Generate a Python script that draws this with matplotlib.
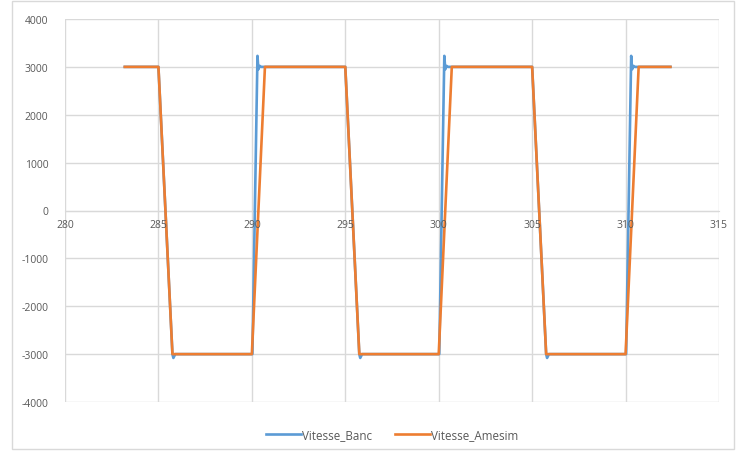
import matplotlib.pyplot as plt
from matplotlib.patches import Rectangle

# Vitesse_Amesim (simulation)
t_amesim = [283.2, 285.0, 285.75, 290.0, 290.7, 295.0, 295.75, 300.0, 300.7,
            305.0, 305.75, 310.0, 310.7, 312.4]
v_amesim = [3000, 3000, -3000, -3000, 3000, 3000, -3000, -3000, 3000,
            3000, -3000, -3000, 3000, 3000]

# Vitesse_Banc (bench measurement)
t_banc = [283.2, 285.0, 285.75, 285.8, 285.9, 290.03, 290.3, 290.35, 290.42, 290.5,
          295.0, 295.75, 295.8, 295.9, 300.03, 300.3, 300.35, 300.42, 300.5,
          305.0, 305.75, 305.8, 305.9, 310.03, 310.3, 310.35, 310.42, 310.5, 312.4]
v_banc = [3000, 3000, -3000, -3080, -3000, -3000, 3230, 2950, 3020, 3000,
          3000, -3000, -3080, -3000, -3000, 3230, 2950, 3020, 3000,
          3000, -3000, -3080, -3000, -3000, 3230, 2950, 3020, 3000, 3000]

x_ticks = [280, 285, 290, 295, 300, 305, 310, 315]
y_ticks = [-4000, -3000, -2000, -1000, 0, 1000, 2000, 3000, 4000]

plt.rcParams['font.family'] = ['Open Sans', 'DejaVu Sans']
plt.rcParams['axes.unicode_minus'] = False
grid_c = '#D9D9D9'
text_c = '#595959'

fig = plt.figure(figsize=(7.36, 4.52), dpi=100)
fig.patches.append(Rectangle((12 / 736, 2 / 452), 722 / 736, 448 / 452,
                             transform=fig.transFigure, fill=False,
                             edgecolor=grid_c, linewidth=1))
ax = fig.add_axes([65 / 736, 49 / 452, 654 / 736, 383 / 452])

ax.plot(t_banc, v_banc, color='#5B9BD5', lw=1.9, label='Vitesse_Banc', zorder=3)
ax.plot(t_amesim, v_amesim, color='#ED7D31', lw=1.9, label='Vitesse_Amesim', zorder=4)

ax.set_xlim(280, 315)
ax.set_ylim(-4000, 4000)
ax.set_xticks(x_ticks)
ax.set_yticks(y_ticks)
ax.grid(True, color=grid_c, lw=1)
ax.set_axisbelow(True)
for s in ['top', 'right', 'left']:
    ax.spines[s].set_visible(False)
ax.spines['bottom'].set_position(('data', 0))
ax.spines['bottom'].set_color(grid_c)
ax.tick_params(length=0, labelsize=7.5, labelcolor=text_c)
ax.tick_params(axis='x', labelbottom=False)
ax.tick_params(axis='y', pad=12)

# x labels sit on top of the curves, as in the original
for xt in x_ticks:
    ax.text(xt, -170, str(xt), ha='center', va='top', fontsize=7.5,
            color=text_c, zorder=6, clip_on=False)

ax.legend(loc='upper center', bbox_to_anchor=(0.5, -0.04), ncol=2, frameon=False,
          fontsize=8.4, labelcolor=text_c, handlelength=3.0, handletextpad=0.1,
          columnspacing=2.0)

fig.savefig('out.png', dpi=100)
